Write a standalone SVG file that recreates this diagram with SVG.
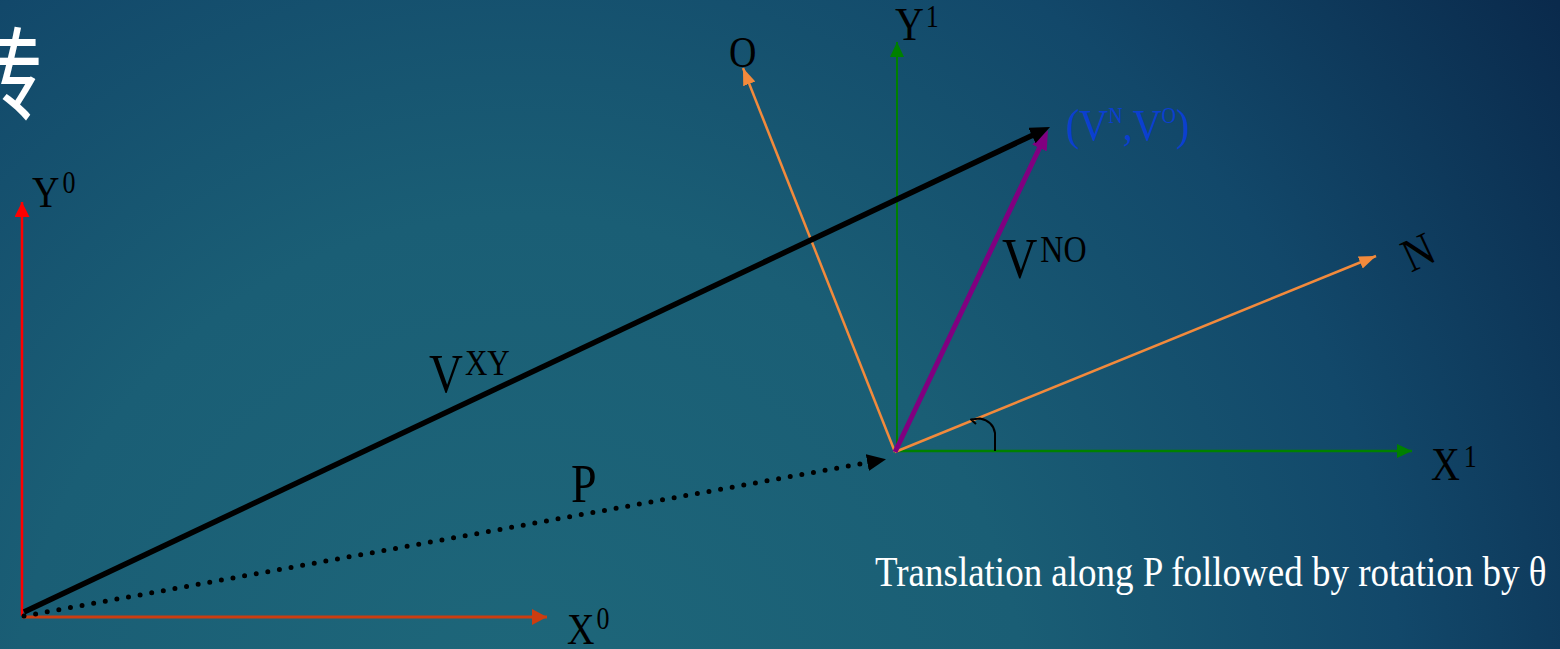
<svg xmlns="http://www.w3.org/2000/svg" width="1560" height="649" viewBox="0 0 1560 649">
<style>
.t{font-family:"Liberation Serif","Times New Roman",serif;fill:#000;}
.ax{fill:none;}
</style>
<defs>
<radialGradient id="bg" cx="520" cy="720" r="1260" gradientUnits="userSpaceOnUse">
<stop offset="0" stop-color="#1e677a"/>
<stop offset="0.4" stop-color="#1a5e75"/>
<stop offset="0.7" stop-color="#12486a"/>
<stop offset="1" stop-color="#0a2a4c"/>
</radialGradient>
<marker id="mRed" markerUnits="userSpaceOnUse" markerWidth="16" markerHeight="16" refX="15" refY="7.5" orient="auto"><path d="M0,0 L15,7.5 L0,15 z" fill="#ff0000"/></marker>
<marker id="mX0" markerUnits="userSpaceOnUse" markerWidth="16" markerHeight="18" refX="15" refY="8" orient="auto"><path d="M0,0 L15,8 L0,16 z" fill="#cc3d10"/></marker>
<marker id="mGreen" markerUnits="userSpaceOnUse" markerWidth="16" markerHeight="16" refX="15" refY="7" orient="auto"><path d="M0,0 L15,7 L0,14 z" fill="#008000"/></marker>
<marker id="mOrange" markerUnits="userSpaceOnUse" markerWidth="18" markerHeight="14" refX="17" refY="6.5" orient="auto"><path d="M0,0 L17,6.5 L0,13 z" fill="#f28a3c"/></marker>
<marker id="mBlack" markerUnits="userSpaceOnUse" markerWidth="22" markerHeight="18" refX="12" refY="8.5" orient="auto"><path d="M0,0 L20,8.5 L0,17 z" fill="#000"/></marker>
<marker id="mPurple" markerUnits="userSpaceOnUse" markerWidth="22" markerHeight="18" refX="12" refY="8" orient="auto"><path d="M0,0 L20,8 L0,16 z" fill="#800080"/></marker>
<marker id="mP" markerUnits="userSpaceOnUse" markerWidth="20" markerHeight="18" refX="1" refY="8.5" orient="auto"><path d="M0,0 L19,8.5 L0,17 z" fill="#000"/></marker>
</defs>
<rect width="1560" height="649" fill="url(#bg)"/>

<text x="0" y="0" transform="matrix(1 0 0 1.2 -42 112)" font-family="'Noto Sans CJK SC',sans-serif" font-size="84" fill="#fff">转</text>

<g id="connectors">
<path class="ax" d="M22 616 L22 202" stroke="#ff0000" stroke-width="2.5" marker-end="url(#mRed)"/>
<path class="ax" d="M22 617 L547 617" stroke="#cc3d10" stroke-width="3" marker-end="url(#mX0)"/>
<path class="ax" d="M897 452 L897 42" stroke="#008000" stroke-width="2" marker-end="url(#mGreen)"/>
<path class="ax" d="M894 451 L1412 451" stroke="#008000" stroke-width="2.5" marker-end="url(#mGreen)"/>
<path class="ax" d="M895 452 L1376 256" stroke="#f28a3c" stroke-width="2.5" marker-end="url(#mOrange)"/>
<path class="ax" d="M895 452 L743 68" stroke="#f28a3c" stroke-width="2.5" marker-end="url(#mOrange)"/>
<path class="ax" d="M895 452 L1044.6 137.2" stroke="#800080" stroke-width="5" marker-end="url(#mPurple)"/>
<path class="ax" d="M24 612 L1042.8 130.4" stroke="#000" stroke-width="5.5" marker-end="url(#mBlack)"/>
<path class="ax" d="M24 616 L868.3 462.4" stroke="#000" stroke-width="5" stroke-dasharray="0 11.8" stroke-linecap="round" marker-end="url(#mP)"/>
<path class="ax" d="M976 424 L971 419.5 L980 418.5 Q993 421 995 433 L995 451" stroke="#000" stroke-width="2" stroke-linejoin="round"/>
</g>

<g id="frame0">
<text class="t" transform="matrix(1 0 0 1.18 32 207)" font-size="38">Y<tspan font-size="26" dx="3" dy="-12">0</tspan></text>
<text class="t" transform="matrix(1 0 0 1.18 567 644)" font-size="38">X<tspan font-size="26" dx="2" dy="-12.5">0</tspan></text>
</g>

<g id="frame1">
<text class="t" transform="matrix(1 0 0 1.18 895 40)" font-size="40">Y<tspan font-size="26" dx="2" dy="-11">1</tspan></text>
<text class="t" transform="matrix(1 0 0 1.18 1431 480)" font-size="40">X<tspan font-size="26" dx="4" dy="-11">1</tspan></text>
<text class="t" transform="matrix(1 0 0 1.18 729 67)" font-size="38">O</text>
<text class="t" transform="translate(1418 252) rotate(-25) scale(1 1.12)" font-size="42" text-anchor="middle" y="14">N</text>
</g>

<g id="vxy">
<text class="t" transform="matrix(1 0 0 1.18 429 392)" font-size="47">V<tspan font-size="31" dx="2" dy="-14.4">XY</tspan></text>
</g>

<g id="vno">
<text class="t" transform="matrix(1 0 0 1.18 1002 278)" font-size="49">V<tspan font-size="32" dx="3" dy="-13.6">NO</tspan></text>
</g>

<g id="p">
<text class="t" transform="matrix(1 0 0 1.18 571 502)" font-size="46">P</text>
</g>

<g id="vnvo">
<text class="t" transform="matrix(1 0 0 1.12 1066 140)" font-size="40" style="fill:#0b3fd0">(V<tspan font-size="20" dy="-15">N</tspan><tspan dy="15">,V</tspan><tspan font-size="20" dy="-15">O</tspan><tspan dy="15">)</tspan></text>
</g>

<g id="caption">
<text class="t" transform="matrix(1 0 0 1.14 875 586)" font-size="37" style="fill:#fff">Translation along P followed by rotation by θ</text>
</g>
</svg>
